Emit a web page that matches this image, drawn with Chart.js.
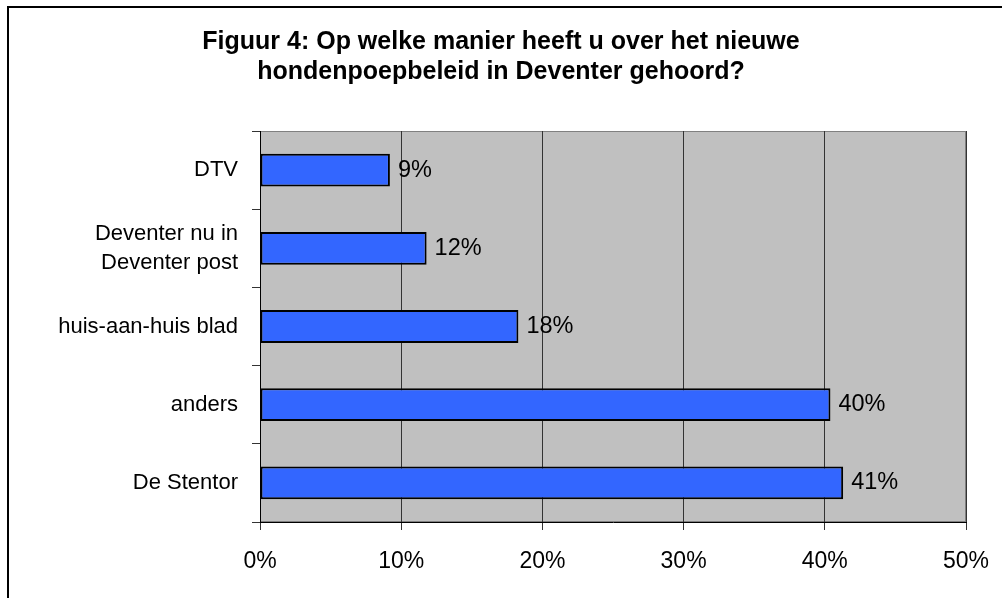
<!DOCTYPE html>
<html>
<head>
<meta charset="utf-8">
<script src="https://cdn.jsdelivr.net/npm/chart.js@4"></script>
<style>
	body { margin: 0; background: #fff; }
	canvas { display: block; }
</style>
</head>
<body>
<canvas id="main-chart" width="1002" height="598"></canvas>
<script>
// data
var categories = ['DTV', ['Deventer nu in', 'Deventer post'], 'huis-aan-huis blad', 'anders', 'De Stentor'];
var values = [9.2, 11.8, 18.3, 40.4, 41.3];
var valueLabels = ['9%', '12%', '18%', '40%', '41%'];
var xTicks = [0, 10, 20, 30, 40, 50];

var fontFamily = "'Liberation Sans', Arial, Helvetica, sans-serif";

// grey plot area + outer frame
var backdrop = {
	id: 'backdrop',
	beforeDraw: function(chart) {
		var ctx = chart.ctx, a = chart.chartArea;
		ctx.save();
		ctx.fillStyle = '#fff';
		ctx.fillRect(0, 0, chart.width, chart.height);
		ctx.fillStyle = '#c0c0c0';
		ctx.fillRect(a.left, a.top, a.right - a.left, a.bottom - a.top);
		ctx.strokeStyle = '#808080';
		ctx.lineWidth = 1;
		ctx.strokeRect(a.left + 0.5, a.top + 0.5, a.right - a.left - 1, a.bottom - a.top - 1);
		// frame (only left and top visible)
		ctx.strokeStyle = '#000';
		ctx.lineWidth = 2;
		ctx.beginPath();
		ctx.moveTo(8, chart.height);
		ctx.lineTo(8, 7);
		ctx.lineTo(chart.width, 7);
		ctx.stroke();
		ctx.restore();
	}
};

// value labels after the bar ends
var barLabels = {
	id: 'barLabels',
	afterDatasetsDraw: function(chart) {
		var ctx = chart.ctx;
		var meta = chart.getDatasetMeta(0);
		ctx.save();
		ctx.font = '23.5px ' + fontFamily;
		ctx.fillStyle = '#000';
		ctx.textAlign = 'left';
		ctx.textBaseline = 'middle';
		meta.data.forEach(function(bar, i) {
			ctx.fillText(valueLabels[i], bar.x + 8, bar.y);
		});
		ctx.restore();
	}
};

function make() {
	var ctx = document.getElementById('main-chart');
	return new Chart(ctx, {
		type: 'bar',
		data: {
			labels: categories,
			datasets: [{
				data: values,
				backgroundColor: '#3366ff',
				borderColor: '#000',
				borderWidth: 2,
				borderSkipped: false,
				barPercentage: 0.42,
				categoryPercentage: 1
			}]
		},
		options: {
			indexAxis: 'y',
			responsive: false,
			animation: false,
			layout: { padding: { left: 36, right: 36, top: 0, bottom: 0 } },
			plugins: {
				legend: { display: false },
				tooltip: { enabled: false },
				title: {
					display: true,
					text: ['Figuur 4: Op welke manier heeft u over het nieuwe', 'hondenpoepbeleid in Deventer gehoord?'],
					color: '#000',
					font: { family: fontFamily, size: 25, weight: 'bold', lineHeight: 1.2 },
					padding: { top: 27, bottom: 44 }
				}
			},
			scales: {
				x: {
					min: 0,
					max: 50,
					afterBuildTicks: function(scale) {
						scale.ticks = xTicks.map(function(v) { return { value: v }; });
					},
					afterFit: function(scale) {
						scale.height = 76;
						scale.paddingLeft = 0;
						scale.paddingRight = 0;
					},
					grid: { color: '#333', lineWidth: 1, tickLength: 8, drawOnChartArea: true },
					border: { color: '#000', width: 1 },
					ticks: {
						color: '#000',
						padding: 18,
						font: { family: fontFamily, size: 23 },
						callback: function(v) { return v + '%'; }
					}
				},
				y: {
					afterFit: function(scale) { scale.width = 224; },
					grid: { color: '#333', lineWidth: 1, tickLength: 8, offset: true, drawOnChartArea: false },
					border: { color: '#000', width: 1 },
					ticks: {
						color: '#000',
						padding: 14,
						font: { family: fontFamily, size: 22, lineHeight: 1.35 }
					}
				}
			}
		},
		plugins: [backdrop, barLabels]
	});
}

make();
</script>
</body>
</html>
